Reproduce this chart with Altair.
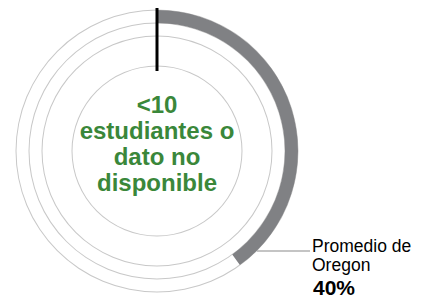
import altair as alt
import pandas as pd

value = [40]
avg_label = ["Promedio de", "Oregon"]
avg_value = ["40%"]
center_lines = ["<10", "estudiantes o", "dato no", "disponible"]

CX, CY = 149, 143

arc_df = pd.DataFrame({"start": [0], "v": value})
full_df = pd.DataFrame({"start": [0], "v": [100]})
theta_scale = alt.Scale(domain=[0, 100], range=[0, 6.283185])

rings = []
for r in [141, 128, 115, 85]:
    rings.append(
        alt.Chart(full_df).mark_arc(radius=r + 0.5, radius2=r - 0.5, color="#c8c8c8").encode(
            theta=alt.Theta("start:Q", scale=theta_scale),
            theta2="v:Q",
            x=alt.value(CX), y=alt.value(CY),
        )
    )

arc = alt.Chart(arc_df).mark_arc(radius=141, radius2=128, color="#808184").encode(
    theta=alt.Theta("start:Q", scale=theta_scale),
    theta2="v:Q",
    x=alt.value(CX), y=alt.value(CY),
)

needle = alt.Chart(pd.DataFrame({"a": [0]})).mark_rule(color="black", strokeWidth=3).encode(
    x=alt.value(CX), y=alt.value(-6), y2=alt.value(63)
)

leader = alt.Chart(pd.DataFrame({"a": [0]})).mark_rule(color="#b0b0b0", strokeWidth=1.5).encode(
    x=alt.value(249), x2=alt.value(302), y=alt.value(243)
)

label_layers = []
for txt, yy in zip(avg_label, [244, 263]):
    label_layers.append(
        alt.Chart(pd.DataFrame({"t": [txt]})).mark_text(
            align="left", baseline="alphabetic", font="Liberation Sans", fontSize=17.5, color="black"
        ).encode(text="t:N", x=alt.value(304), y=alt.value(yy))
    )

val = alt.Chart(pd.DataFrame({"t": avg_value})).mark_text(
    align="left", baseline="alphabetic", font="Liberation Sans", fontSize=21, fontWeight="bold", color="black"
).encode(text="t:N", x=alt.value(305), y=alt.value(287))

center = alt.Chart(pd.DataFrame({"t": ["\n".join(center_lines)]})).mark_text(
    align="center", baseline="alphabetic", font="Liberation Sans", fontSize=24, fontWeight="bold",
    color="#3a873a", lineBreak="\n", lineHeight=26,
).encode(text="t:N", x=alt.value(CX), y=alt.value(105))

chart = alt.layer(*rings, arc, needle, leader, *label_layers, val, center).properties(
    width=408, height=292, padding=0, autosize="none"
).configure_view(stroke=None)

chart.save("out.html", embed_options={"renderer": "svg", "actions": False})
